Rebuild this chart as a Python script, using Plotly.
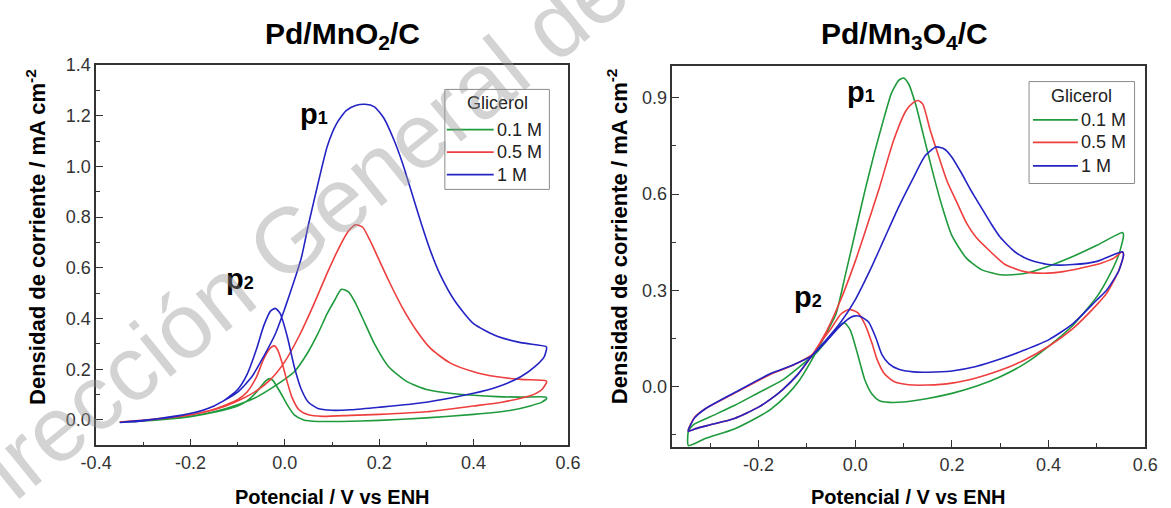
import plotly.graph_objects as go

W, H = 1171, 508

# ---------------- data ----------------
conc_labels = ["0.1 M", "0.5 M", "1 M"]
line_colors = ["#1f9a3c", "#ef3e3e", "#2424c4"]

# Pd/MnO2/C : forward (anodic) and backward scans, potential in V vs ENH, current in mA cm-2
mno2_E_fwd_01 = [-0.35, -0.30, -0.25, -0.20, -0.15, -0.10, -0.06, -0.02, 0.02, 0.05, 0.07, 0.09, 0.105, 0.12, 0.135,
                 0.15, 0.17, 0.19, 0.22, 0.26, 0.30, 0.35, 0.40, 0.45, 0.50, 0.553]
mno2_j_fwd_01 = [-0.008, -0.004, 0.004, 0.014, 0.032, 0.060, 0.090, 0.135, 0.19, 0.27, 0.34, 0.42, 0.47, 0.515, 0.505,
                 0.46, 0.38, 0.30, 0.21, 0.15, 0.12, 0.105, 0.097, 0.092, 0.09, 0.09]
mno2_E_bwd_01 = [0.555, 0.545, 0.52, 0.48, 0.40, 0.30, 0.20, 0.12, 0.07, 0.04, 0.02, 0.005, -0.01, -0.025, -0.032,
                 -0.04, -0.06, -0.08, -0.10, -0.15, -0.20, -0.25, -0.30, -0.35]
mno2_j_bwd_01 = [0.085, 0.07, 0.055, 0.038, 0.022, 0.008, -0.002, -0.006, -0.006, 0.0, 0.02, 0.06, 0.11, 0.155, 0.163,
                 0.155, 0.11, 0.075, 0.055, 0.03, 0.013, 0.003, -0.004, -0.008]

mno2_E_fwd_05 = [-0.35, -0.30, -0.25, -0.20, -0.15, -0.10, -0.06, -0.03, 0.0, 0.03, 0.06, 0.09, 0.115, 0.135, 0.15,
                 0.165, 0.18, 0.20, 0.22, 0.25, 0.28, 0.31, 0.35, 0.40, 0.45, 0.50, 0.553]
mno2_j_fwd_05 = [-0.008, -0.002, 0.008, 0.02, 0.04, 0.075, 0.115, 0.16, 0.23, 0.33, 0.45, 0.58, 0.68, 0.745, 0.77,
                 0.76, 0.71, 0.63, 0.55, 0.44, 0.35, 0.28, 0.225, 0.19, 0.17, 0.16, 0.155]
mno2_E_bwd_05 = [0.555, 0.545, 0.52, 0.46, 0.40, 0.30, 0.20, 0.14, 0.08, 0.05, 0.03, 0.015, 0.005, -0.005, -0.015,
                 -0.022, -0.03, -0.045, -0.06, -0.08, -0.10, -0.15, -0.20, -0.25, -0.30, -0.35]
mno2_j_bwd_05 = [0.15, 0.12, 0.095, 0.07, 0.055, 0.032, 0.022, 0.018, 0.014, 0.02, 0.04, 0.09, 0.15, 0.22, 0.275,
                 0.292, 0.285, 0.24, 0.17, 0.11, 0.08, 0.042, 0.02, 0.008, -0.002, -0.008]

mno2_E_fwd_1 = [-0.35, -0.30, -0.25, -0.20, -0.15, -0.10, -0.07, -0.045, -0.02, 0.0, 0.02, 0.035, 0.05, 0.07, 0.09,
                0.11, 0.13, 0.15, 0.17, 0.19, 0.21, 0.23, 0.25, 0.27, 0.29, 0.31, 0.33, 0.36, 0.40, 0.45, 0.50, 0.553]
mno2_j_fwd_1 = [-0.01, -0.004, 0.01, 0.025, 0.055, 0.11, 0.17, 0.25, 0.34, 0.44, 0.55, 0.64, 0.77, 0.93, 1.08,
                1.17, 1.22, 1.24, 1.245, 1.235, 1.19, 1.11, 1.01, 0.89, 0.77, 0.66, 0.57, 0.47, 0.38, 0.33, 0.305, 0.29]
mno2_E_bwd_1 = [0.555, 0.55, 0.53, 0.50, 0.45, 0.40, 0.30, 0.20, 0.14, 0.10, 0.07, 0.05, 0.035, 0.02, 0.005,
                -0.01, -0.02, -0.03, -0.045, -0.06, -0.08, -0.10, -0.13, -0.17, -0.22, -0.28, -0.35]
mno2_j_bwd_1 = [0.285, 0.25, 0.21, 0.17, 0.13, 0.105, 0.07, 0.05, 0.04, 0.038, 0.045, 0.07, 0.12, 0.21, 0.33,
                0.42, 0.44, 0.43, 0.37, 0.28, 0.18, 0.12, 0.075, 0.04, 0.018, 0.002, -0.01]

# Pd/Mn3O4/C
mn3o4_E_fwd_01 = [-0.345, -0.31, -0.25, -0.20, -0.175, -0.14, -0.115, -0.085, -0.06, -0.04, -0.02, 0.0, 0.02, 0.04,
                  0.06, 0.075, 0.09, 0.10, 0.11, 0.125, 0.14, 0.16, 0.18, 0.20, 0.23, 0.26, 0.30, 0.35, 0.40, 0.45,
                  0.50, 0.553]
mn3o4_j_fwd_01 = [-0.185, -0.163, -0.133, -0.095, -0.072, -0.025, 0.02, 0.095, 0.165, 0.225, 0.35, 0.48, 0.61, 0.73,
                  0.84, 0.915, 0.955, 0.962, 0.945, 0.88, 0.79, 0.67, 0.56, 0.47, 0.40, 0.365, 0.348, 0.352, 0.375,
                  0.405, 0.44, 0.48]
mn3o4_E_bwd_01 = [0.555, 0.545, 0.52, 0.50, 0.45, 0.40, 0.35, 0.30, 0.25, 0.20, 0.15, 0.10, 0.07, 0.05, 0.035, 0.02,
                  0.005, -0.01, -0.022, -0.035, -0.055, -0.08, -0.10, -0.15, -0.20, -0.25, -0.30, -0.335, -0.345]
mn3o4_j_bwd_01 = [0.47, 0.41, 0.33, 0.28, 0.19, 0.125, 0.07, 0.03, 0.0, -0.022, -0.038, -0.049, -0.05, -0.045,
                  -0.025, 0.02, 0.10, 0.175, 0.198, 0.185, 0.15, 0.105, 0.08, 0.02, -0.02, -0.06, -0.095, -0.12, -0.14]

mn3o4_E_fwd_05 = [-0.345, -0.33, -0.30, -0.25, -0.20, -0.175, -0.15, -0.12, -0.09, -0.06, -0.03, 0.0, 0.02, 0.05,
                  0.08, 0.105, 0.12, 0.13, 0.14, 0.155, 0.17, 0.19, 0.21, 0.23, 0.25, 0.28, 0.31, 0.35, 0.39, 0.43,
                  0.47, 0.51, 0.535, 0.553]
mn3o4_j_fwd_05 = [-0.14, -0.132, -0.12, -0.10, -0.065, -0.04, -0.01, 0.035, 0.095, 0.17, 0.27, 0.39, 0.48, 0.62,
                  0.77, 0.86, 0.885, 0.892, 0.88, 0.80, 0.73, 0.64, 0.575, 0.51, 0.465, 0.42, 0.38, 0.358, 0.353,
                  0.358, 0.37, 0.385, 0.40, 0.42]
mn3o4_E_bwd_05 = [0.555, 0.545, 0.52, 0.50, 0.45, 0.40, 0.35, 0.30, 0.25, 0.20, 0.15, 0.11, 0.08, 0.06, 0.045,
                  0.035, 0.02, 0.005, -0.013, -0.03, -0.05, -0.07, -0.09, -0.13, -0.175, -0.25, -0.31, -0.333, -0.345]
mn3o4_j_bwd_05 = [0.41, 0.36, 0.29, 0.255, 0.18, 0.125, 0.082, 0.05, 0.026, 0.01, 0.004, 0.005, 0.015, 0.04, 0.085,
                  0.133, 0.194, 0.23, 0.24, 0.225, 0.18, 0.14, 0.098, 0.065, 0.038, -0.022, -0.07, -0.098, -0.135]

mn3o4_E_fwd_1 = [-0.345, -0.33, -0.30, -0.25, -0.20, -0.175, -0.15, -0.12, -0.09, -0.06, -0.03, 0.0, 0.03, 0.06,
                 0.09, 0.12, 0.145, 0.167, 0.185, 0.20, 0.22, 0.24, 0.26, 0.28, 0.30, 0.33, 0.36, 0.40, 0.45, 0.50,
                 0.553]
mn3o4_j_fwd_1 = [-0.14, -0.132, -0.12, -0.10, -0.065, -0.04, -0.01, 0.035, 0.095, 0.145, 0.20, 0.27, 0.36, 0.46,
                 0.56, 0.65, 0.72, 0.747, 0.74, 0.715, 0.665, 0.61, 0.56, 0.51, 0.465, 0.42, 0.395, 0.38, 0.38, 0.39,
                 0.42]
mn3o4_E_bwd_1 = [0.555, 0.545, 0.52, 0.50, 0.45, 0.40, 0.35, 0.30, 0.25, 0.20, 0.15, 0.12, 0.09, 0.07, 0.055, 0.043,
                 0.028, 0.012, 0.0, -0.01, -0.03, -0.06, -0.09, -0.13, -0.175, -0.25, -0.31, -0.333, -0.345]
mn3o4_j_bwd_1 = [0.41, 0.36, 0.30, 0.27, 0.195, 0.145, 0.113, 0.085, 0.062, 0.048, 0.044, 0.045, 0.053, 0.07, 0.10,
                 0.15, 0.20, 0.217, 0.22, 0.215, 0.19, 0.14, 0.095, 0.066, 0.04, -0.02, -0.07, -0.10, -0.135]

# tick positions and labels
mno2_xticks = [-0.4, -0.2, 0.0, 0.2, 0.4, 0.6]
mno2_xlabels = ["-0.4", "-0.2", "0.0", "0.2", "0.4", "0.6"]
mno2_yticks = [0.0, 0.2, 0.4, 0.6, 0.8, 1.0, 1.2, 1.4]
mno2_ylabels = ["0.0", "0.2", "0.4", "0.6", "0.8", "1.0", "1.2", "1.4"]
mn3o4_xticks = [-0.2, 0.0, 0.2, 0.4, 0.6]
mn3o4_xlabels = ["-0.2", "0.0", "0.2", "0.4", "0.6"]
mn3o4_yticks = [0.0, 0.3, 0.6, 0.9]
mn3o4_ylabels = ["0.0", "0.3", "0.6", "0.9"]

panel_titles = ["<b>Pd/MnO<sub>2</sub>/C</b>", "<b>Pd/Mn<sub>3</sub>O<sub>4</sub>/C</b>"]
x_title = "<b>Potencial / V vs ENH</b>"
y_title = "<b>Densidad de corriente / mA cm<sup>-2</sup></b>"
legend_title = "Glicerol"
peak_letter = "p"
peak_index = ["1", "2"]
watermark_text = "Dirección General de"

panels = [
    ("x", "y", [(mno2_E_fwd_01, mno2_j_fwd_01, mno2_E_bwd_01, mno2_j_bwd_01),
                (mno2_E_fwd_05, mno2_j_fwd_05, mno2_E_bwd_05, mno2_j_bwd_05),
                (mno2_E_fwd_1, mno2_j_fwd_1, mno2_E_bwd_1, mno2_j_bwd_1)]),
    ("x2", "y2", [(mn3o4_E_fwd_01, mn3o4_j_fwd_01, mn3o4_E_bwd_01, mn3o4_j_bwd_01),
                  (mn3o4_E_fwd_05, mn3o4_j_fwd_05, mn3o4_E_bwd_05, mn3o4_j_bwd_05),
                  (mn3o4_E_fwd_1, mn3o4_j_fwd_1, mn3o4_E_bwd_1, mn3o4_j_bwd_1)]),
]


# ---------------- figure ----------------
def px(x):
    return x / W


def py(y):
    return 1 - y / H


FONT = "Liberation Sans, Arial, sans-serif"
fig = go.Figure()

for xa, ya, curves in panels:
    for (Ef, jf, Eb, jb), name, color in zip(curves, conc_labels, line_colors):
        # closed cyclic voltammogram: forward sweep, backward sweep, back to the start
        E = Ef + Eb + Ef[:1]
        j = jf + jb + jf[:1]
        fig.add_trace(go.Scatter(
            x=E, y=j, mode="lines", name=name, xaxis=xa, yaxis=ya, showlegend=False,
            line=dict(color=color, width=1.6, shape="spline", smoothing=0.6),
            hoverinfo="skip"))

MINOR = dict(ticks="inside", ticklen=4, tickwidth=1.1, tickcolor="#333333", tick0=0)
axis_common = dict(
    showgrid=False, zeroline=False, showline=True, linecolor="#333333", linewidth=1.5, mirror=True,
    ticks="inside", ticklen=7, tickwidth=1.3, tickcolor="#333333", tickmode="array",
    tickfont=dict(family=FONT, size=18, color="#333333"),
)

fig.update_layout(
    width=W, height=H, margin=dict(l=0, r=0, t=0, b=0),
    paper_bgcolor="white", plot_bgcolor="white", showlegend=False,
    xaxis=dict(axis_common, domain=[px(83), px(566)], range=[-0.4001, 0.6001],
               tickvals=mno2_xticks, ticktext=mno2_xlabels, minor=dict(MINOR, dtick=0.1), anchor="y"),
    yaxis=dict(axis_common, domain=[py(444), py(56)], range=[-0.1, 1.4005],
               tickvals=mno2_yticks, ticktext=mno2_ylabels, minor=dict(MINOR, dtick=0.1), anchor="x"),
    xaxis2=dict(axis_common, domain=[px(673), px(1157)], range=[-0.378, 0.6001],
                tickvals=mn3o4_xticks, ticktext=mn3o4_xlabels, minor=dict(MINOR, dtick=0.1), anchor="y2"),
    yaxis2=dict(axis_common, domain=[py(446), py(57)], range=[-0.19, 1.0],
                tickvals=mn3o4_yticks, ticktext=mn3o4_ylabels, minor=dict(MINOR, dtick=0.15), anchor="x2"),
)

ann = []
shapes = []

# panel titles and axis titles
for title, cx in zip(panel_titles, [335, 910]):
    ann.append(dict(text=title, x=px(cx), y=py(26), xref="paper", yref="paper", showarrow=False,
                    font=dict(family=FONT, size=30, color="black"), xanchor="center", yanchor="middle"))
for cx in [324.5, 915]:
    ann.append(dict(text=x_title, x=px(cx), y=py(497), xref="paper", yref="paper", showarrow=False,
                    font=dict(family=FONT, size=20, color="black"), xanchor="center", yanchor="middle"))
for cx in [22, 617]:
    ann.append(dict(text=y_title, x=px(cx), y=py(231), xref="paper", yref="paper", showarrow=False,
                    textangle=-90, font=dict(family=FONT, size=22, color="black"),
                    xanchor="center", yanchor="middle"))

# peak labels
peak_pos = [(306, 106), (230, 274), (866, 84), (812, 293)]
for k, (cx, cy) in enumerate(peak_pos):
    lbl = peak_letter + "<span style='font-size:18px'>" + peak_index[k % 2] + "</span>"
    ann.append(dict(text="<b>" + lbl + "</b>", x=px(cx), y=py(cy), xref="paper", yref="paper",
                    showarrow=False, font=dict(family=FONT, size=29, color="black"),
                    xanchor="center", yanchor="middle"))

# legends drawn in each panel
legend_boxes = [
    dict(x0=440, x1=547, y0=81, y1=183, title_y=95, rows=[122, 145, 168], lx0=442, lx1=490),
    dict(x0=1038, x1=1146, y0=73, y1=177, title_y=88, rows=[112, 135, 159], lx0=1042, lx1=1088),
]
for lb in legend_boxes:
    shapes.append(dict(type="rect", xref="paper", yref="paper", x0=px(lb["x0"]), x1=px(lb["x1"]),
                       y0=py(lb["y1"]), y1=py(lb["y0"]), line=dict(color="#8a8a8a", width=1),
                       fillcolor="rgba(255,255,255,0)"))
    ann.append(dict(text=legend_title, x=px((lb["x0"] + lb["x1"]) / 2), y=py(lb["title_y"]), xref="paper",
                    yref="paper", showarrow=False, font=dict(family=FONT, size=18, color="#222"),
                    xanchor="center", yanchor="middle"))
    for name, color, ry in zip(conc_labels, line_colors, lb["rows"]):
        shapes.append(dict(type="line", xref="paper", yref="paper", x0=px(lb["lx0"]), x1=px(lb["lx1"]),
                           y0=py(ry), y1=py(ry), line=dict(color=color, width=1.8)))
        ann.append(dict(text=name, x=px(lb["lx1"] + 1), y=py(ry), xref="paper", yref="paper",
                        showarrow=False, font=dict(family=FONT, size=18, color="#222"),
                        xanchor="left", yanchor="middle"))

# faint diagonal watermark
ann.append(dict(text=watermark_text, x=px(270), y=py(243), xref="paper", yref="paper",
                showarrow=False, textangle=-39,
                font=dict(family=FONT, size=92, color="rgba(150,150,150,0.42)"),
                xanchor="center", yanchor="middle"))

fig.update_layout(annotations=ann, shapes=shapes)
fig.write_html("out.html")
